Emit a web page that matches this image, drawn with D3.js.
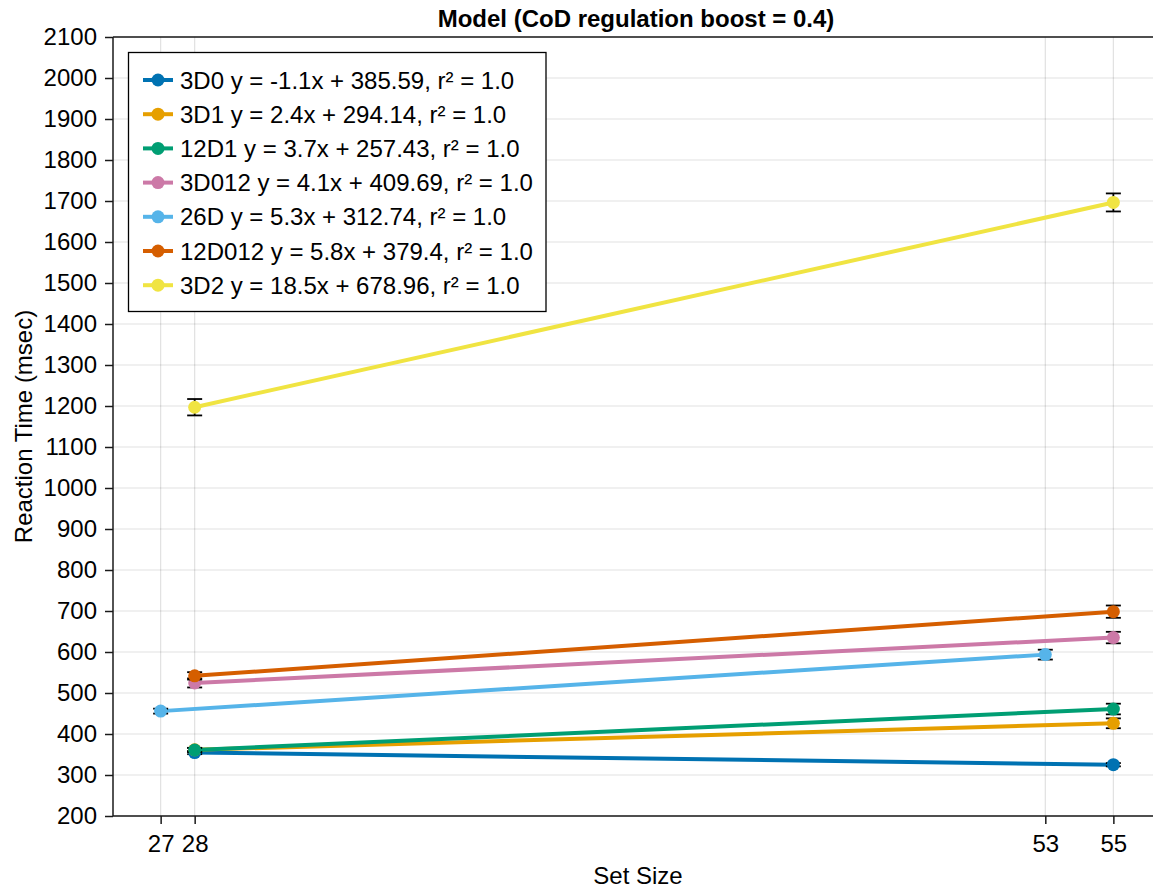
<!DOCTYPE html>
<html>
<head>
<meta charset="utf-8">
<script src="https://cdn.jsdelivr.net/npm/d3@7"></script>
<style>
  html, body { margin: 0; padding: 0; background: #fff; }
  svg { display: block; overflow: hidden; }
  text { font-family: "Liberation Sans", Arial, Helvetica, sans-serif; fill: #000; }
</style>
</head>
<body>
<svg id="chart" width="1153" height="889"></svg>
<script>
// Series names, set sizes, mean reaction times and error half-widths
const seriesNames = ["3D0", "3D1", "12D1", "3D012", "26D", "12D012", "3D2"];
const seriesColors = ["#0072B2", "#E69F00", "#009E73", "#CC79A7", "#56B4E9", "#D55E00", "#F0E442"];
const setSizes = [[28, 55], [28, 55], [28, 55], [28, 55], [27, 53], [28, 55], [28, 55]];
const meanRT = [
  [354.8, 325.1],
  [361.3, 426.1],
  [361.0, 460.9],
  [524.5, 635.2],
  [455.8, 593.6],
  [541.8, 698.4],
  [1197.0, 1696.5]
];
const errRT = [
  [4, 4],
  [5, 12],
  [5, 13],
  [11, 14],
  [6, 12],
  [9, 15],
  [20, 22]
];
const legendLabels = [
  "3D0 y = -1.1x + 385.59, r² = 1.0",
  "3D1 y = 2.4x + 294.14, r² = 1.0",
  "12D1 y = 3.7x + 257.43, r² = 1.0",
  "3D012 y = 4.1x + 409.69, r² = 1.0",
  "26D y = 5.3x + 312.74, r² = 1.0",
  "12D012 y = 5.8x + 379.4, r² = 1.0",
  "3D2 y = 18.5x + 678.96, r² = 1.0"
];
const xTicks = [27, 28, 53, 55];
const yTicks = d3.range(200, 2101, 100);
const titleText = "Model (CoD regulation boost = 0.4)";
const xLabel = "Set Size";
const yLabel = "Reaction Time (msec)";

const svg = d3.select("#chart");
const plot = { left: 113, top: 37, right: 1161, bottom: 816 };
const fontSize = 24;

const x = d3.scaleLinear().domain([25.6, 56.4]).range([plot.left, plot.right]);
const y = d3.scaleLinear().domain([200, 2100]).range([plot.bottom, plot.top]);

// grid
const grid = svg.append("g");
grid.selectAll("line.h").data(yTicks).join("line")
  .attr("x1", plot.left).attr("x2", plot.right)
  .attr("y1", d => y(d)).attr("y2", d => y(d))
  .attr("stroke", "rgba(0,0,0,0.12)").attr("stroke-width", 1.2);
grid.selectAll("line.v").data(xTicks).join("line")
  .attr("x1", d => x(d)).attr("x2", d => x(d))
  .attr("y1", plot.top).attr("y2", plot.bottom)
  .attr("stroke", "rgba(0,0,0,0.12)").attr("stroke-width", 1.2);

// axes
const yAxis = d3.axisLeft(y).tickValues(yTicks).tickSize(8).tickPadding(8).tickFormat(d3.format("d"));
const xAxis = d3.axisBottom(x).tickValues(xTicks).tickSize(8).tickPadding(11).tickFormat(d3.format("d"));

const gy = svg.append("g").attr("transform", `translate(${plot.left},0)`).call(yAxis);
const gx = svg.append("g").attr("transform", `translate(0,${plot.bottom})`).call(xAxis);
[gx, gy].forEach(g => {
  g.select(".domain").remove();
  g.selectAll(".tick line").attr("stroke", "#1a1a1a").attr("stroke-width", 1.5);
  g.selectAll(".tick text").attr("font-size", fontSize).attr("fill", "#000")
    .style("font-family", "'Liberation Sans', Arial, sans-serif");
});

// spines
svg.append("line").attr("x1", plot.left).attr("x2", plot.left).attr("y1", plot.top).attr("y2", plot.bottom)
  .attr("stroke", "#1a1a1a").attr("stroke-width", 1.5);
svg.append("line").attr("x1", plot.left).attr("x2", plot.right).attr("y1", plot.top).attr("y2", plot.top)
  .attr("stroke", "#1a1a1a").attr("stroke-width", 1.5);
svg.append("line").attr("x1", plot.left).attr("x2", plot.right).attr("y1", plot.bottom).attr("y2", plot.bottom)
  .attr("stroke", "#1a1a1a").attr("stroke-width", 1.5);

// series data records
const series = seriesNames.map((name, i) => ({
  name, color: seriesColors[i],
  pts: setSizes[i].map((s, j) => ({ x: s, y: meanRT[i][j], e: errRT[i][j] }))
}));

const line = d3.line().x(d => x(d.x)).y(d => y(d.y));
const marks = svg.append("g");

series.forEach(s => {
  const g = marks.append("g");
  g.append("path").datum(s.pts).attr("d", line)
    .attr("fill", "none").attr("stroke", s.color).attr("stroke-width", 4);
  // error bars
  const eb = g.selectAll("g.eb").data(s.pts).join("g");
  eb.append("line")
    .attr("x1", d => x(d.x)).attr("x2", d => x(d.x))
    .attr("y1", d => y(d.y - d.e)).attr("y2", d => y(d.y + d.e))
    .attr("stroke", "#000").attr("stroke-width", 1.8);
  [-1, 1].forEach(sgn => {
    eb.append("line")
      .attr("x1", d => x(d.x) - 7.5).attr("x2", d => x(d.x) + 7.5)
      .attr("y1", d => y(d.y + sgn * d.e)).attr("y2", d => y(d.y + sgn * d.e))
      .attr("stroke", "#000").attr("stroke-width", 1.8);
  });
  g.selectAll("circle").data(s.pts).join("circle")
    .attr("cx", d => x(d.x)).attr("cy", d => y(d.y)).attr("r", 6.5)
    .attr("fill", s.color);
});

// legend
const lg = svg.append("g");
lg.append("rect").attr("x", 128.5).attr("y", 52.5).attr("width", 417.5).attr("height", 259)
  .attr("fill", "#fff").attr("stroke", "#000").attr("stroke-width", 1.3);
series.forEach((s, i) => {
  const cy = 80 + i * 34.2;
  lg.append("line").attr("x1", 143).attr("x2", 173).attr("y1", cy).attr("y2", cy)
    .attr("stroke", s.color).attr("stroke-width", 4);
  lg.append("circle").attr("cx", 158).attr("cy", cy).attr("r", 6.5).attr("fill", s.color);
  lg.append("text").attr("x", 180).attr("y", cy).attr("dy", "0.36em")
    .attr("font-size", fontSize).text(legendLabels[i]);
});

// title and axis labels
svg.append("text").attr("x", 636).attr("y", 27)
  .attr("text-anchor", "middle").attr("font-size", fontSize).attr("font-weight", "bold").text(titleText);
svg.append("text").attr("x", 638).attr("y", 884)
  .attr("text-anchor", "middle").attr("font-size", fontSize).text(xLabel);
svg.append("text").attr("transform", `translate(32,${(plot.top + plot.bottom) / 2}) rotate(-90)`)
  .attr("text-anchor", "middle").attr("font-size", fontSize).text(yLabel);
</script>
</body>
</html>
